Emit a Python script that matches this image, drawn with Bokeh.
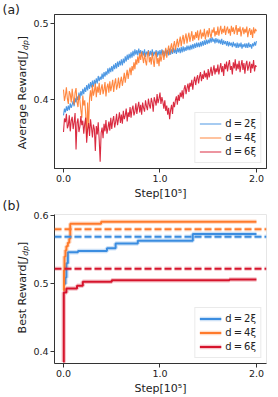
import math
from bokeh.plotting import figure
from bokeh.models import Range1d, FixedTicker, Span, PrintfTickFormatter
from bokeh.core.properties import value
from bokeh.layouts import column, row
from bokeh.embed import file_html
from bokeh.resources import INLINE

# ---------------- data: panel (a) average reward ----------------
steps_a = [i / 100 for i in range(201)]  # step in units of 1e5

avg_d2 = [
    0.379, 0.388, 0.383, 0.391, 0.385, 0.392, 0.386, 0.395, 0.389, 0.393,
    0.398, 0.391, 0.402, 0.396, 0.404, 0.399, 0.409, 0.401, 0.411, 0.405,
    0.414, 0.407, 0.416, 0.410, 0.419, 0.412, 0.421, 0.414, 0.423, 0.416,
    0.425, 0.417, 0.426, 0.420, 0.428, 0.421, 0.431, 0.424, 0.430, 0.426,
    0.434, 0.427, 0.436, 0.430, 0.437, 0.432, 0.441, 0.434, 0.442, 0.436,
    0.444, 0.437, 0.446, 0.440, 0.448, 0.441, 0.450, 0.443, 0.451, 0.445,
    0.453, 0.445, 0.454, 0.448, 0.457, 0.450, 0.459, 0.452, 0.460, 0.454,
    0.462, 0.455, 0.464, 0.457, 0.466, 0.459, 0.465, 0.458, 0.467, 0.460,
    0.465, 0.457, 0.464, 0.458, 0.466, 0.456, 0.463, 0.459, 0.465, 0.457,
    0.464, 0.458, 0.466, 0.457, 0.463, 0.459, 0.465, 0.456, 0.464, 0.458,
    0.465, 0.458, 0.466, 0.459, 0.464, 0.457, 0.466, 0.460, 0.465, 0.458,
    0.467, 0.459, 0.466, 0.460, 0.468, 0.461, 0.467, 0.460, 0.468, 0.462,
    0.468, 0.461, 0.469, 0.462, 0.470, 0.463, 0.469, 0.464, 0.471, 0.465,
    0.471, 0.465, 0.472, 0.466, 0.473, 0.467, 0.474, 0.468, 0.475, 0.469,
    0.475, 0.469, 0.476, 0.470, 0.477, 0.471, 0.478, 0.472, 0.479, 0.473,
    0.479, 0.474, 0.481, 0.475, 0.482, 0.476, 0.480, 0.474, 0.481, 0.475,
    0.480, 0.474, 0.479, 0.473, 0.480, 0.472, 0.478, 0.473, 0.477, 0.471,
    0.477, 0.470, 0.476, 0.471, 0.475, 0.469, 0.476, 0.470, 0.474, 0.468,
    0.475, 0.468, 0.474, 0.469, 0.475, 0.467, 0.473, 0.469, 0.474, 0.468,
    0.474, 0.468, 0.475, 0.469, 0.473, 0.467, 0.474, 0.470, 0.476, 0.471,
    0.477]

avg_d4 = [
    0.413, 0.398, 0.405, 0.416, 0.401, 0.394, 0.411, 0.407, 0.396, 0.414,
    0.402, 0.393, 0.409, 0.415, 0.397, 0.390, 0.406, 0.399, 0.386, 0.376,
    0.405, 0.392, 0.399, 0.381, 0.350, 0.396, 0.364, 0.402, 0.412, 0.398,
    0.419, 0.405, 0.411, 0.421, 0.403, 0.417, 0.409, 0.422, 0.406, 0.414,
    0.420, 0.407, 0.413, 0.423, 0.404, 0.416, 0.421, 0.409, 0.424, 0.411,
    0.418, 0.426, 0.410, 0.421, 0.428, 0.413, 0.419, 0.429, 0.415, 0.424,
    0.430, 0.418, 0.426, 0.435, 0.422, 0.431, 0.439, 0.427, 0.436, 0.442,
    0.432, 0.444, 0.438, 0.449, 0.440, 0.453, 0.446, 0.457, 0.448, 0.461,
    0.452, 0.463, 0.455, 0.448, 0.461, 0.451, 0.445, 0.459, 0.464, 0.449,
    0.456, 0.446, 0.462, 0.452, 0.443, 0.458, 0.463, 0.447, 0.455, 0.444,
    0.460, 0.450, 0.457, 0.465, 0.452, 0.461, 0.468, 0.455, 0.464, 0.471,
    0.459, 0.468, 0.474, 0.462, 0.471, 0.477, 0.465, 0.473, 0.480, 0.469,
    0.476, 0.483, 0.470, 0.479, 0.485, 0.473, 0.481, 0.487, 0.474, 0.482,
    0.488, 0.476, 0.483, 0.490, 0.477, 0.485, 0.479, 0.489, 0.481, 0.491,
    0.478, 0.486, 0.492, 0.480, 0.488, 0.483, 0.493, 0.479, 0.487, 0.491,
    0.482, 0.494, 0.486, 0.481, 0.492, 0.488, 0.495, 0.483, 0.490, 0.485,
    0.496, 0.484, 0.491, 0.497, 0.486, 0.493, 0.488, 0.497, 0.485, 0.492,
    0.496, 0.487, 0.493, 0.484, 0.497, 0.489, 0.495, 0.486, 0.492, 0.498,
    0.485, 0.494, 0.489, 0.496, 0.483, 0.491, 0.495, 0.486, 0.493, 0.488,
    0.496, 0.482, 0.490, 0.494, 0.485, 0.492, 0.481, 0.495, 0.487, 0.493,
    0.490]

avg_d6 = [
    0.357, 0.375, 0.370, 0.381, 0.362, 0.366, 0.379, 0.358, 0.372, 0.377,
    0.361, 0.370, 0.382, 0.334, 0.369, 0.375, 0.357, 0.364, 0.378, 0.366,
    0.372, 0.355, 0.368, 0.376, 0.343, 0.361, 0.369, 0.352, 0.374, 0.363,
    0.350, 0.367, 0.361, 0.332, 0.365, 0.354, 0.370, 0.347, 0.318, 0.356,
    0.363, 0.349, 0.368, 0.358, 0.373, 0.355, 0.362, 0.371, 0.359, 0.376,
    0.361, 0.372, 0.378, 0.363, 0.370, 0.381, 0.366, 0.374, 0.383, 0.369,
    0.380, 0.368, 0.385, 0.374, 0.379, 0.388, 0.371, 0.383, 0.377, 0.390,
    0.376, 0.387, 0.392, 0.379, 0.384, 0.395, 0.381, 0.390, 0.397, 0.383,
    0.393, 0.380, 0.396, 0.389, 0.384, 0.399, 0.391, 0.386, 0.401, 0.393,
    0.388, 0.402, 0.396, 0.384, 0.403, 0.398, 0.392, 0.407, 0.395, 0.401,
    0.409, 0.394, 0.403, 0.397, 0.388, 0.399, 0.385, 0.392, 0.380, 0.389,
    0.374, 0.386, 0.393, 0.381, 0.397, 0.390, 0.399, 0.404, 0.393, 0.406,
    0.398, 0.409, 0.403, 0.412, 0.401, 0.414, 0.419, 0.407, 0.415, 0.421,
    0.410, 0.422, 0.417, 0.426, 0.413, 0.424, 0.430, 0.419, 0.427, 0.432,
    0.421, 0.430, 0.436, 0.424, 0.433, 0.427, 0.438, 0.429, 0.435, 0.426,
    0.440, 0.429, 0.436, 0.443, 0.431, 0.438, 0.445, 0.433, 0.441, 0.436,
    0.446, 0.433, 0.441, 0.448, 0.436, 0.444, 0.431, 0.447, 0.440, 0.450,
    0.437, 0.446, 0.452, 0.439, 0.444, 0.433, 0.449, 0.441, 0.453, 0.438,
    0.447, 0.440, 0.451, 0.436, 0.445, 0.452, 0.439, 0.448, 0.434, 0.446,
    0.451, 0.438, 0.444, 0.450, 0.435, 0.447, 0.441, 0.452, 0.437, 0.445,
    0.443]

# ---------------- data: panel (b) best reward ----------------
best_d2_x = [0.0, 0.02, 0.03, 0.045, 0.15, 0.45, 0.54, 0.77, 1.34, 2.0]
best_d2_y = [0.500, 0.509, 0.530, 0.546, 0.548, 0.552, 0.559, 0.563, 0.573, 0.573]
best_d4_x = [0.0, 0.005, 0.01, 0.02, 0.03, 0.045, 0.06, 0.07, 0.39, 2.0]
best_d4_y = [0.490, 0.520, 0.540, 0.549, 0.555, 0.560, 0.566, 0.588, 0.591, 0.591]
best_d6_x = [0.0, 0.003, 0.03, 0.14, 0.2, 0.5, 1.72, 2.0]
best_d6_y = [0.385, 0.487, 0.493, 0.497, 0.503, 0.505, 0.506, 0.506]
ref_lines = [0.569, 0.580, 0.522]   # dashed reference levels for d=2,4,6

labels = ["d\u2009=\u20092\u03be", "d\u2009=\u20094\u03be", "d\u2009=\u20096\u03be"]
x_ticks = [0.0, 1.0, 2.0]
a_ticks = [0.4, 0.5]
b_ticks = [0.4, 0.5, 0.6]

BLUE, ORANGE, RED = "#3b8de0", "#ff7a2b", "#d6142c"
COLORS = [BLUE, ORANGE, RED]
FONT = "DejaVu Sans"
DARK = "#333333"
PAGE_H = 397
LAB_W = 30


def base_fig(fh, top, bottom, yr, yticks, outline):
    p = figure(frame_width=212, frame_height=fh, output_backend="svg",
               toolbar_location=None, x_range=Range1d(-0.0933, 2.104),
               y_range=yr, min_border_left=53 - LAB_W, min_border_right=13,
               min_border_top=top, min_border_bottom=bottom)
    p.outline_line_color = outline
    p.outline_line_width = 1
    p.xgrid.visible = False
    p.ygrid.visible = False
    p.background_fill_color = "white"
    p.border_fill_color = "white"
    for ax, t in ((p.xaxis[0], x_ticks), (p.yaxis[0], yticks)):
        ax.ticker = FixedTicker(ticks=t)
        ax.formatter = PrintfTickFormatter(format="%.1f")
        ax.axis_line_color = DARK
        ax.major_tick_line_color = DARK
        ax.major_tick_out = 4
        ax.major_tick_in = 0
        ax.minor_tick_line_color = None
        ax.major_label_text_font = FONT
        ax.major_label_text_font_size = "9.5px"
        ax.major_label_text_color = "#222222"
        ax.major_label_standoff = 2
    p.xaxis.axis_label = "Step[10\u2075]"
    p.xaxis.axis_label_text_font = FONT
    p.xaxis.axis_label_text_font_size = "11px"
    p.xaxis.axis_label_text_font_style = "normal"
    p.xaxis.axis_label_text_color = "#222222"
    p.xaxis.axis_label_standoff = 2
    return p


def style_legend(p):
    lg = p.legend[0]
    lg.location = "bottom_right"
    lg.margin = 5
    lg.padding = 4
    lg.spacing = 1
    lg.label_height = 13
    lg.glyph_height = 13
    lg.glyph_width = 22
    lg.label_standoff = 4
    lg.label_text_font = FONT
    lg.label_text_font_size = "10px"
    lg.label_text_color = "#222222"
    lg.border_line_color = "#d5d5d5"
    lg.border_line_width = 1
    lg.background_fill_alpha = 0.9


# ---------------- panel (a) ----------------
A_LO, A_HI = 0.309, 0.512
pa = base_fig(154, 14, 34, Range1d(A_LO, A_HI), a_ticks, DARK)
for ys, c, lab in zip([avg_d2, avg_d4, avg_d6], COLORS, labels):
    pa.line(steps_a, ys, line_color=c, line_width=1.1, line_alpha=0.9, legend_label=lab)
style_legend(pa)

# ---------------- panel (b) ----------------
B_LO, B_HI = 0.3829, 0.6015
pb = base_fig(149, 12, 34, Range1d(B_LO, B_HI), b_ticks, "#e6e6e6")
for xs, ys, c, lab in zip([best_d2_x, best_d4_x, best_d6_x],
                          [best_d2_y, best_d4_y, best_d6_y], COLORS, labels):
    pb.step(xs, ys, mode="after", line_color=c, line_width=4.5, line_alpha=0.25,
            legend_label=lab)
    pb.step(xs, ys, mode="after", line_color=c, line_width=2, legend_label=lab)
for yv, c in zip(ref_lines, COLORS):
    pb.add_layout(Span(location=yv, dimension="width", line_color=c, line_width=4.5,
                       line_alpha=0.2, line_dash="7 3"))
    pb.add_layout(Span(location=yv, dimension="width", line_color=c, line_width=2,
                       line_dash="7 3"))
style_legend(pb)

# ---------------- label strip (panel letters and y-axis titles) ----------------
lab = figure(width=LAB_W, height=PAGE_H, output_backend="svg", toolbar_location=None,
             x_range=Range1d(0, LAB_W), y_range=Range1d(0, PAGE_H),
             x_axis_type=None, y_axis_type=None, min_border=0)
lab.outline_line_color = None
lab.grid.visible = False
lab.background_fill_color = "white"
lab.border_fill_color = "white"


def put(txt, x, y_from_top, size, style="normal", angle=0.0, align="left",
        baseline="middle"):
    lab.text(x=[x], y=[PAGE_H - y_from_top], text=[txt], angle=angle,
             text_font=value(FONT), text_font_size=value(f"{size}px"),
             text_font_style=style, text_align=align, text_baseline=baseline,
             text_color="#222222")


def ylabel(py_center, main, main_em):
    fs = 11.0
    w_main = main_em * fs
    w_j = 0.36 * fs
    w_sub = 1.27 * fs * 0.7
    w_br = 0.39 * fs
    total = w_main + w_j + w_sub + w_br
    start = py_center + total / 2
    cx = 22
    rot = math.pi / 2
    put(main, cx, start, fs, angle=rot)
    put("J", cx, start - w_main, fs, style="italic", angle=rot)
    put("dp", cx + 3, start - w_main - w_j, round(fs * 0.7, 1), style="italic", angle=rot)
    put("]", cx, start - w_main - w_j - w_sub, fs, angle=rot)


put("(a)", 2, 1, 12.5, baseline="top")
put("(b)", 2, 197, 12.5, baseline="top")
ylabel(92, "Average Reward[", 8.660)
ylabel(287, "Best Reward[", 6.709)

layout = row(lab, column(pa, pb, spacing=0), spacing=0)
open("out.html", "w").write(file_html(layout, INLINE))
